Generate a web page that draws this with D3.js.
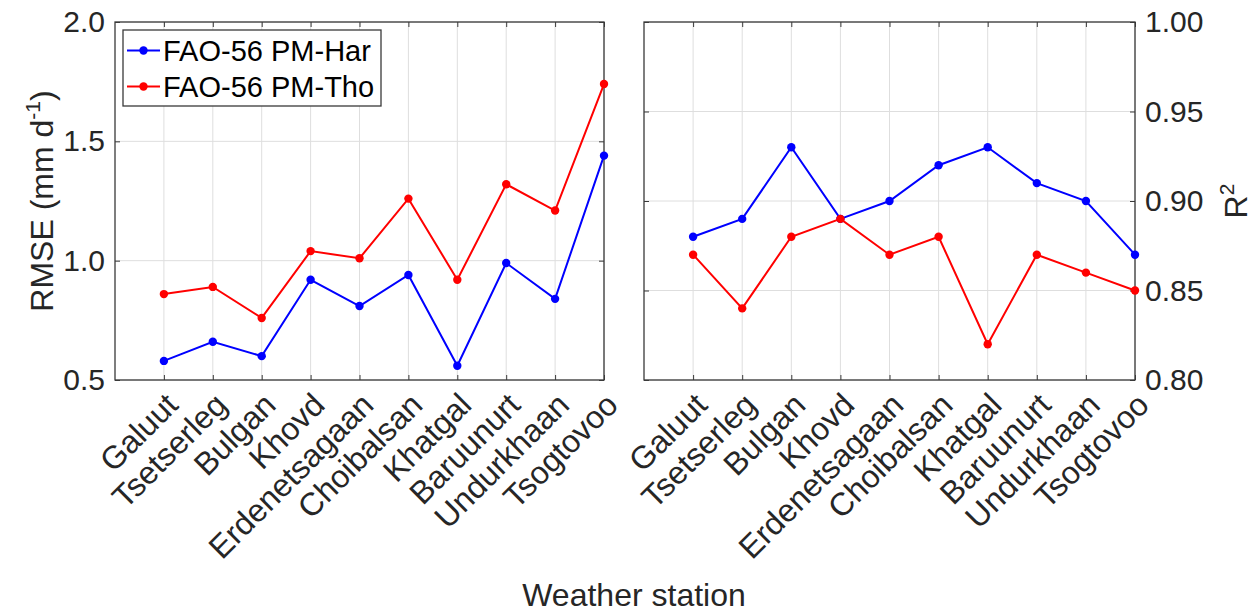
<!DOCTYPE html>
<html><head><meta charset="utf-8">
<script src="https://cdn.jsdelivr.net/npm/d3@7"></script>
<style>
body{margin:0;background:#fff}
text{font-family:"Liberation Sans",Arial,Helvetica,sans-serif}
</style>
</head><body><svg id="c" width="1254" height="614"></svg>
<script>
const stations = ["Galuut","Tsetserleg","Bulgan","Khovd","Erdenetsagaan","Choibalsan","Khatgal","Baruunurt","Undurkhaan","Tsogtovoo"];
const seriesNames = ["FAO-56 PM-Har","FAO-56 PM-Tho"];
const rmseHar = [0.58,0.66,0.60,0.92,0.81,0.94,0.56,0.99,0.84,1.44];
const rmseTho = [0.86,0.89,0.76,1.04,1.01,1.26,0.92,1.32,1.21,1.74];
const r2Har = [0.88,0.89,0.93,0.89,0.90,0.92,0.93,0.91,0.90,0.87];
const r2Tho = [0.87,0.84,0.88,0.89,0.87,0.88,0.82,0.87,0.86,0.85];
const rmseTicks = [0.5,1.0,1.5,2.0];
const r2Ticks = [0.80,0.85,0.90,0.95,1.00];
const colors = ["#0000ff","#ff0000"];

const svg = d3.select("#c");
const TXT = "#262626", AX = "#3a3a3a", GRID = "#dedede";
const TF = 30, XF = 32, LF = 32, GF = 29;
const idx = d3.range(1, stations.length + 1);

function panel(x0, x1, y0, y1, yDomain, yTicks, fmt, data, side) {
  const x = d3.scaleLinear().domain([0, stations.length]).range([x0, x1]);
  const y = d3.scaleLinear().domain(yDomain).range([y1, y0]);
  const g = svg.append("g");
  // grid
  g.selectAll(".gx").data(idx).join("line")
    .attr("x1", d => x(d)).attr("x2", d => x(d)).attr("y1", y0).attr("y2", y1)
    .attr("stroke", GRID).attr("stroke-width", 1);
  g.selectAll(".gy").data(yTicks).join("line")
    .attr("x1", x0).attr("x2", x1).attr("y1", d => y(d)).attr("y2", d => y(d))
    .attr("stroke", GRID).attr("stroke-width", 1);
  const strip = s => { s.select(".domain").remove(); s.selectAll("line").attr("stroke", AX); };
  // inward ticks on all four sides
  g.append("g").attr("transform", `translate(0,${y1})`)
    .call(d3.axisBottom(x).tickValues(idx).tickSize(-5).tickFormat("")).call(strip);
  g.append("g").attr("transform", `translate(0,${y0})`)
    .call(d3.axisTop(x).tickValues(idx).tickSize(-5).tickFormat("")).call(strip);
  const yl = side === "left" ? d3.axisLeft(y) : d3.axisRight(y);
  const yo = side === "left" ? d3.axisRight(y) : d3.axisLeft(y);
  g.append("g").attr("transform", `translate(${side === "left" ? x0 : x1},0)`)
    .call(yl.tickValues(yTicks).tickSize(-5).tickPadding(10).tickFormat(d3.format(fmt)))
    .call(strip)
    .call(s => s.selectAll("text").attr("font-size", TF).attr("fill", TXT)
      .attr("font-family", '"Liberation Sans",Arial,sans-serif'));
  g.append("g").attr("transform", `translate(${side === "left" ? x1 : x0},0)`)
    .call(yo.tickValues(yTicks).tickSize(-5).tickFormat("")).call(strip);
  // box
  g.append("rect").attr("x", x0).attr("y", y0).attr("width", x1 - x0).attr("height", y1 - y0)
    .attr("fill", "none").attr("stroke", AX).attr("stroke-width", 1.3);
  // rotated x tick labels
  g.selectAll(".xl").data(stations).join("text")
    .attr("transform", (d, i) => `translate(${x(i + 1) + 8},${y1 + 19}) rotate(-45)`)
    .attr("text-anchor", "end").attr("dy", "0.35em")
    .attr("font-size", XF).attr("fill", TXT).text(d => d);
  // series
  const line = d3.line().x((d, i) => x(i + 1)).y(d => y(d));
  data.forEach((vals, k) => {
    g.append("path").datum(vals).attr("d", line).attr("fill", "none")
      .attr("stroke", colors[k]).attr("stroke-width", 2);
    g.selectAll(null).data(vals).join("circle")
      .attr("cx", (d, i) => x(i + 1)).attr("cy", d => y(d)).attr("r", 4.2)
      .attr("fill", colors[k]);
  });
  return {x, y};
}

panel(115, 604, 22, 380, [0.5, 2.0], rmseTicks, ".1f", [rmseHar, rmseTho], "left");
panel(644, 1135, 22, 380, [0.80, 1.00], r2Ticks, ".2f", [r2Har, r2Tho], "right");

// legend
const lg = svg.append("g");
lg.append("rect").attr("x", 123).attr("y", 30).attr("width", 258).attr("height", 76)
  .attr("fill", "#fff").attr("stroke", AX).attr("stroke-width", 1.3);
seriesNames.forEach((n, k) => {
  const yy = 50.5 + k * 36;
  lg.append("line").attr("x1", 127).attr("x2", 160).attr("y1", yy).attr("y2", yy)
    .attr("stroke", colors[k]).attr("stroke-width", 2);
  lg.append("circle").attr("cx", 143.5).attr("cy", yy).attr("r", 4.2).attr("fill", colors[k]);
  lg.append("text").attr("x", 163).attr("y", yy).attr("dy", "0.35em")
    .attr("font-size", GF).attr("fill", "#000").text(n);
});

// y labels
const yl1 = svg.append("text").attr("transform", "translate(53,201) rotate(-90)")
  .attr("text-anchor", "middle").attr("font-size", LF).attr("fill", TXT);
yl1.append("tspan").text("RMSE (mm d");
yl1.append("tspan").attr("dy", -13).attr("font-size", 21).text("-1");
yl1.append("tspan").attr("dy", 13).text(")");

const yl2 = svg.append("text").attr("transform", "translate(1247,201) rotate(-90)")
  .attr("text-anchor", "middle").attr("font-size", LF).attr("fill", TXT);
yl2.append("tspan").text("R");
yl2.append("tspan").attr("dy", -13).attr("font-size", 21).text("2");

// x label
svg.append("text").attr("x", 634).attr("y", 606).attr("text-anchor", "middle")
  .attr("font-size", LF).attr("fill", TXT).text("Weather station");
</script>
</body></html>
